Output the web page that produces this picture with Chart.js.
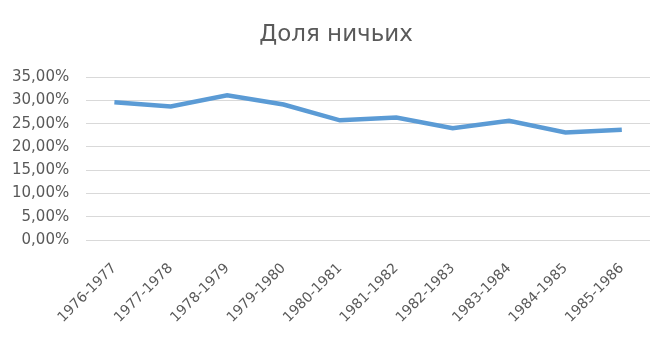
<!DOCTYPE html>
<html>
<head>
  <meta charset="utf-8">
  <script src="https://cdn.jsdelivr.net/npm/chart.js"></script>
  <style>
    html, body { margin: 0; padding: 0; background: #fff; }
    #wrap { width: 672px; height: 339px; }
  </style>
</head>
<body>
  <div id="wrap"><canvas id="chart"></canvas></div>
  <script>
    var chartTitle = "Доля ничьих";
    var seasons = ["1976-1977", "1977-1978", "1978-1979", "1979-1980", "1980-1981",
                   "1981-1982", "1982-1983", "1983-1984", "1984-1985", "1985-1986"];
    var drawShare = [29.6, 28.7, 31.1, 29.1, 25.7, 26.3, 24.0, 25.6, 23.1, 23.7];

    // title centred on the whole picture, not on the padded area
    var centeredTitle = {
      id: "centeredTitle",
      afterDraw: function (chart) {
        var c = chart.ctx;
        c.save();
        c.fillStyle = "#595959";
        c.font = "23px 'DejaVu Sans'";
        c.textAlign = "center";
        c.textBaseline = "middle";
        c.fillText(chartTitle, chart.width / 2, 35);
        c.restore();
      }
    };

    var ctx = document.getElementById("chart").getContext("2d");
    var chart = new Chart(ctx, {
      type: "line",
      data: {
        labels: seasons,
        datasets: [{
          label: chartTitle,
          data: drawShare,
          borderColor: "#5B9BD5",
          borderWidth: 4.5,
          pointRadius: 0,
          tension: 0,
          fill: false
        }]
      },
      options: {
        responsive: true,
        maintainAspectRatio: false,
        animation: false,
        layout: { padding: { left: -5, right: 22, top: 77, bottom: -7 } },
        plugins: {
          legend: { display: false },
          tooltip: { enabled: false },
          title: { display: false }
        },
        scales: {
          x: {
            offset: true,
            grid: { display: false, drawTicks: false },
            border: { display: false },
            ticks: {
              color: "#595959",
              font: { family: "DejaVu Sans", size: 14 },
              maxRotation: 45,
              minRotation: 45,
              padding: 20
            }
          },
          y: {
            min: 0,
            max: 35,
            grid: { color: "#D9D9D9", lineWidth: 1, drawTicks: false },
            border: { display: false },
            ticks: {
              stepSize: 5,
              color: "#595959",
              font: { family: "DejaVu Sans", size: 15 },
              padding: 17,
              callback: function (v) { return v.toFixed(2).replace(".", ",") + "%"; }
            }
          }
        }
      },
      plugins: [centeredTitle]
    });
  </script>
</body>
</html>
